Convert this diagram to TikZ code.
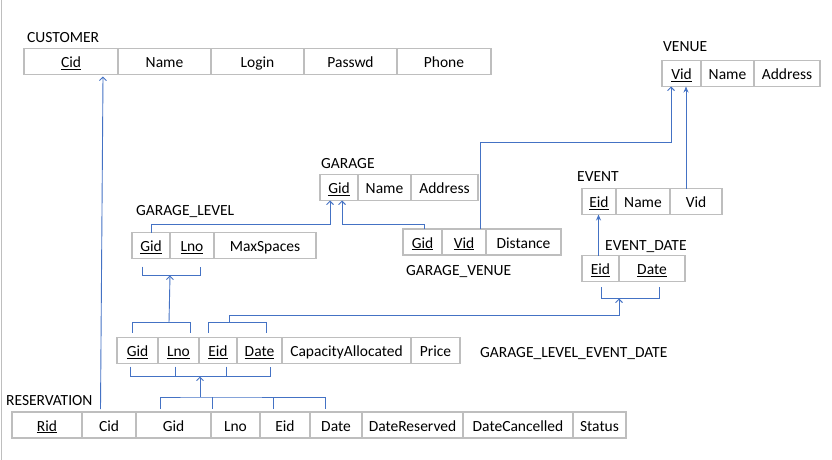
\documentclass[tikz,border=0pt]{standalone}
\usepackage{fontspec}
\setmainfont{Carlito}
\usetikzlibrary{positioning, arrows.meta}
\definecolor{linkblue}{RGB}{68,114,196}
\definecolor{cellgray}{RGB}{190,190,190}

\begin{document}
\begin{tikzpicture}[x=1pt,y=-1pt,node distance=0pt,
    cell/.style={draw=cellgray, line width=1.3pt, minimum height=26pt, inner sep=0pt, outer sep=0pt,
      text height=12.5pt, text depth=0.5pt, font=\fontsize{15.5}{18}\selectfont},
    title/.style={anchor=base west, inner sep=0pt, font=\fontsize{15.5}{18}\selectfont},
    link/.style={draw=linkblue, line width=0.9pt},
    fk/.style={link, -{Straight Barb[length=3.5pt,width=7pt]}},
    fkf/.style={link, -{Stealth[length=6pt,width=5pt]}}]
  \useasboundingbox (0,0) rectangle (832,460);
  \draw[cellgray, line width=1pt] (1,0) -- (1,460);

  % CUSTOMER
  \node[cell, minimum width=94pt, anchor=west] (cusCid) at (24,61.5) {\underline{Cid}};
  \node[cell, minimum width=93pt, right=of cusCid] (cusName) {Name};
  \node[cell, minimum width=93pt, right=of cusName] (cusLogin) {Login};
  \node[cell, minimum width=93pt, right=of cusLogin] (cusPasswd) {Passwd};
  \node[cell, minimum width=94pt, right=of cusPasswd] (cusPhone) {Phone};
  \node[title] (cusTitle) at ([xshift=3pt,yshift=5.5pt]cusCid.north west) {CUSTOMER};

  % VENUE
  \node[cell, minimum width=39pt, anchor=west] (venVid) at (662,73.5) {\underline{Vid}};
  \node[cell, minimum width=53pt, right=of venVid] (venName) {Name};
  \node[cell, minimum width=66pt, right=of venName] (venAddress) {Address};
  \node[title] (venTitle) at ([xshift=1pt,yshift=8.5pt]venVid.north west) {VENUE};

  % GARAGE
  \node[cell, minimum width=38pt, anchor=west] (garGid) at (320,187.5) {\underline{Gid}};
  \node[cell, minimum width=53pt, right=of garGid] (garName) {Name};
  \node[cell, minimum width=67pt, right=of garName] (garAddress) {Address};
  \node[title] (garTitle) at ([xshift=1pt,yshift=6.5pt]garGid.north west) {GARAGE};

  % GARAGE_LEVEL
  \node[cell, minimum width=38pt, anchor=west] (glGid) at (132,245.5) {\underline{Gid}};
  \node[cell, minimum width=44pt, right=of glGid] (glLno) {\underline{Lno}};
  \node[cell, minimum width=102pt, right=of glLno] (glMax) {MaxSpaces};
  \node[title] (glTitle) at ([xshift=4pt,yshift=17.5pt]glGid.north west) {GARAGE\_LEVEL};

  % GARAGE_VENUE
  \node[cell, minimum width=39pt, anchor=west] (gvGid) at (403,242) {\underline{Gid}};
  \node[cell, minimum width=44pt, right=of gvGid] (gvVid) {\underline{Vid}};
  \node[cell, minimum width=75pt, right=of gvVid] (gvDistance) {Distance};
  \node[title] (gvTitle) at ([xshift=3pt,yshift=-20pt]gvGid.south west) {GARAGE\_VENUE};

  % EVENT
  \node[cell, minimum width=34pt, anchor=west] (evEid) at (582,201.5) {\underline{Eid}};
  \node[cell, minimum width=54pt, right=of evEid] (evName) {Name};
  \node[cell, minimum width=52pt, right=of evName] (evVid) {Vid};
  \node[title] (evTitle) at ([xshift=-5pt,yshift=7.5pt]evEid.north west) {EVENT};

  % EVENT_DATE
  \node[cell, minimum width=37pt, anchor=west] (edEid) at (582,268.5) {\underline{Eid}};
  \node[cell, minimum width=66pt, right=of edEid] (edDate) {\underline{Date}};
  \node[title] (edTitle) at ([xshift=23pt,yshift=5.5pt]edEid.north west) {EVENT\_DATE};

  % GARAGE_LEVEL_EVENT_DATE
  \node[cell, minimum width=41pt, anchor=west] (gledGid) at (117,350.5) {\underline{Gid}};
  \node[cell, minimum width=41pt, right=of gledGid] (gledLno) {\underline{Lno}};
  \node[cell, minimum width=38pt, right=of gledLno] (gledEid) {\underline{Eid}};
  \node[cell, minimum width=45pt, right=of gledEid] (gledDate) {\underline{Date}};
  \node[cell, minimum width=129pt, right=of gledDate] (gledCap) {CapacityAllocated};
  \node[cell, minimum width=49pt, right=of gledCap] (gledPrice) {Price};
  \node[title] (gledTitle) at ([xshift=20pt,yshift=-6.5pt]gledPrice.east) {GARAGE\_LEVEL\_EVENT\_DATE};

  % RESERVATION
  \node[cell, minimum width=70pt, anchor=west] (resRid) at (12,425) {\underline{Rid}};
  \node[cell, minimum width=54pt, right=of resRid] (resCid) {Cid};
  \node[cell, minimum width=75pt, right=of resCid] (resGid) {Gid};
  \node[cell, minimum width=49pt, right=of resGid] (resLno) {Lno};
  \node[cell, minimum width=50pt, right=of resLno] (resEid) {Eid};
  \node[cell, minimum width=52pt, right=of resEid] (resDate) {Date};
  \node[cell, minimum width=101pt, right=of resDate] (resReserved) {DateReserved};
  \node[cell, minimum width=110pt, right=of resReserved] (resCancelled) {DateCancelled};
  \node[cell, minimum width=53pt, right=of resCancelled] (resStatus) {Status};
  \node[title] (resTitle) at ([xshift=-6pt,yshift=6.5pt]resRid.north west) {RESERVATION};

  % bracket joints
  \coordinate (edKey) at ([yshift=-17pt]edEid.south east);
  \coordinate (glKey) at ([yshift=-17pt]glGid.south east);
  \coordinate (gledGLKey) at ([xshift=11pt,yshift=15pt]gledGid.north east);
  \coordinate (gledEDKey) at ([xshift=-8pt,yshift=15pt]gledEid.north east);
  \coordinate (gledKey) at ([xshift=1pt,yshift=-13pt]gledLno.south east);
  \coordinate (resKey) at ([xshift=-11pt,yshift=15pt]resGid.north east);

  % foreign keys
  \draw[fk] ([xshift=-8.5pt,yshift=3pt]resCid.north) -- ([xshift=32pt,yshift=-2pt]cusCid.south);
  \draw[fk] (glGid.north) -- ++(0,-8) -| ([xshift=-9pt]garGid.south);
  \draw[fk] ([xshift=2pt]gvGid.north) -- ++(0,-4.5) -| ([xshift=3pt]garGid.south);
  \draw[fk] ([xshift=16pt]gvVid.north) -- ++(0,-87) -| ([xshift=-10.5pt]venVid.south);
  \draw[fkf] ([xshift=-10pt]evVid.north) -- ([xshift=-10pt]evVid.north |- venVid.south);
  \draw[fkf] ([xshift=-2pt]edEid.north) -- ([xshift=-2pt]edEid.north |- evEid.south);

  \draw[link] ([xshift=1pt,yshift=-5.5pt]edEid.south) |- (edKey) -| ([xshift=7pt,yshift=-5.5pt]edDate.south);
  \draw[link] ([xshift=-9pt,yshift=-8pt]glGid.south) |- (glKey) -| ([xshift=8pt,yshift=-8pt]glLno.south);

  \draw[link] ([xshift=-5pt,yshift=5pt]gledGid.north) |- (gledGLKey) -| ([xshift=12pt,yshift=5pt]gledLno.north);
  \draw[fk] (gledGLKey) -- (glKey);
  \draw[link] ([xshift=-10pt,yshift=5pt]gledEid.north) |- (gledEDKey) -| ([xshift=7pt,yshift=5pt]gledDate.north);
  \draw[fk] (gledEDKey) -- ++(0,-7) -| (edKey);

  \draw[link] ([xshift=-7pt,yshift=-3pt]gledGid.south) |- (gledKey) -| ([xshift=11pt,yshift=-3pt]gledDate.south);
  \draw[link] ([xshift=-3pt,yshift=-3pt]gledLno.south) -- ++(0,10);
  \draw[link] ([xshift=8pt,yshift=-3pt]gledEid.south) -- ++(0,10);

  \draw[link] ([xshift=-13.5pt,yshift=3pt]resGid.north) |- (resKey) -| ([xshift=-11pt,yshift=3pt]resDate.north);
  \draw[link] ([xshift=-23.5pt,yshift=3pt]resLno.north) -- ++(0,-12);
  \draw[link] ([xshift=-12pt,yshift=3pt]resEid.north) -- ++(0,-12);
  \draw[fk] (resKey) -- (gledKey);
\end{tikzpicture}
\end{document}
